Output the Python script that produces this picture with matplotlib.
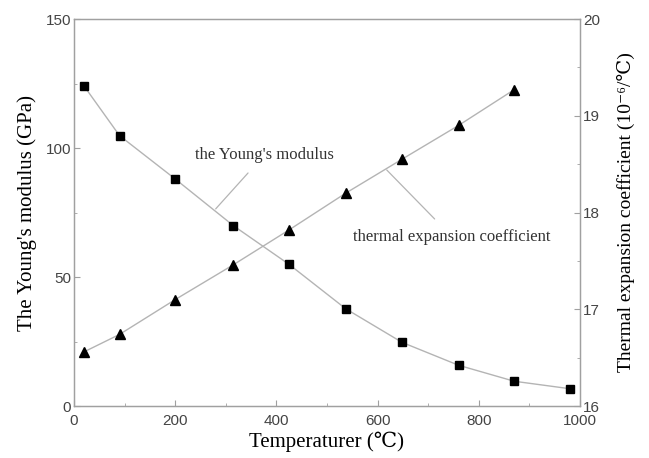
import matplotlib
matplotlib.use("Agg")
import matplotlib.pyplot as plt
from matplotlib.ticker import MultipleLocator

# Data
temp_E = [20, 90, 200, 315, 425, 537, 648, 760, 870, 980]
young = [124.0, 104.8, 88.0, 69.9, 54.9, 37.7, 24.7, 15.8, 9.6, 6.7]

temp_a = [20, 90, 200, 315, 425, 537, 648, 760, 870]
alpha = [16.56, 16.74, 17.10, 17.46, 17.82, 18.20, 18.55, 18.90, 19.27]

serif = ['Liberation Serif', 'DejaVu Serif', 'DejaVu Sans']
sans = 'Liberation Sans'
spine_c = '#a0a0a0'
line_c = '#b4b4b4'
tick_c = '#444444'

fig = plt.figure(figsize=(6.49, 4.58), dpi=100)
ax = fig.add_axes([0.114, 0.1135, 0.7797, 0.845])
ax2 = ax.twinx()

ax.plot(temp_E, young, '-', color=line_c, lw=1.0, zorder=2)
ax.plot(temp_E, young, 's', color='black', ms=5.5, zorder=3)
ax2.plot(temp_a, alpha, '-', color=line_c, lw=1.0, zorder=2)
ax2.plot(temp_a, alpha, '^', color='black', ms=7, zorder=3)

ax.set_xlim(0, 1000)
ax.set_ylim(0, 150)
ax2.set_ylim(16, 20)

ax.xaxis.set_major_locator(MultipleLocator(200))
ax.xaxis.set_minor_locator(MultipleLocator(100))
ax.yaxis.set_major_locator(MultipleLocator(50))
ax.yaxis.set_minor_locator(MultipleLocator(25))
ax2.yaxis.set_major_locator(MultipleLocator(1))
ax2.yaxis.set_minor_locator(MultipleLocator(0.5))

for a in (ax, ax2):
    for s in a.spines.values():
        s.set_color(spine_c)
        s.set_linewidth(0.9)
    a.tick_params(which='major', direction='in', length=4, width=0.8,
                  color=spine_c, labelcolor=tick_c, labelsize=11, pad=2)
    a.tick_params(which='minor', direction='in', length=2, width=0.6,
                  color=spine_c)
    for lab in a.get_xticklabels() + a.get_yticklabels():
        lab.set_family(sans)
ax.tick_params(top=False, right=False)
ax.tick_params(which='minor', top=False, right=False)
ax.tick_params(axis='x', pad=6)

ax.set_xlabel('Temperaturer (℃)', family=serif, fontsize=15, labelpad=2)
ax.set_ylabel("The Young's modulus (GPa)", family=serif, fontsize=15, labelpad=6)
ax2.set_ylabel('Thermal expansion coefficient (10⁻⁶/℃)', family=serif,
               fontsize=14, labelpad=12)

# Leader-line annotations
ax.annotate("the Young's modulus", xy=(280, 76.4), xytext=(376, 97.3),
            family=serif, fontsize=12, color='#333333', ha='center', va='center',
            arrowprops=dict(arrowstyle='-', color=line_c, lw=0.9,
                            shrinkA=7, shrinkB=0))
ax2.annotate('thermal expansion coefficient', xy=(618, 18.44), xytext=(747, 17.75),
             family=serif, fontsize=12, color='#333333', ha='center', va='center',
             arrowprops=dict(arrowstyle='-', color=line_c, lw=0.9,
                             shrinkA=7, shrinkB=0))

fig.savefig('out.png', dpi=100)
